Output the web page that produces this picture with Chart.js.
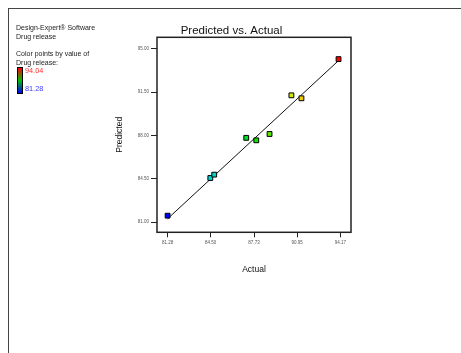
<!DOCTYPE html>
<html>
<head>
<meta charset="utf-8">
<script src="https://cdn.jsdelivr.net/npm/chart.js@4"></script>
<style>
  body { margin: 0; background: #fff; font-family: "Liberation Sans", Arial, sans-serif; }
  #wrap { position: relative; width: 461px; height: 353px; overflow: hidden; }
  #frame { position: absolute; left: 8px; top: 8px; right: -5px; bottom: -5px; border-left: 1.5px solid #444; border-top: 1.5px solid #444; }
  #info { position: absolute; left: 16px; top: 23px; font-size: 7px; line-height: 9.3px; color: #222; }
  #bar { position: absolute; left: 17px; top: 67px; width: 4px; height: 25px; border: 1px solid #000;
         background: linear-gradient(#ff0000, #00c000 50%, #0000ff); }
  .lbl { position: absolute; left: 25px; font-size: 7.3px; }
  canvas { position: absolute; left: 0; top: 0; }
</style>
</head>
<body>
<div id="wrap">
  <canvas id="chart" width="461" height="353"></canvas>
  <div id="frame"></div>
  <div id="info">
    Design-Expert® Software<br>Drug release<br><span style="display:block;height:7.6px"></span>Color points by value of<br>Drug release:
  </div>
  <div id="bar"></div>
  <div class="lbl" style="top:66px;color:#ff3030">94.04</div>
  <div class="lbl" style="top:84px;color:#3a3aff">81.28</div>
</div>
<script>
// data
const actual    = [81.28, 84.47, 84.76, 87.15, 87.90, 88.89, 90.52, 91.27, 94.04];
const predicted = [81.53, 84.57, 84.84, 87.81, 87.61, 88.12, 91.24, 91.00, 94.16];
const fitLine   = [81.28, 94.04];
const xTicks = [81.28, 84.50, 87.73, 90.95, 94.17];
const yTicks = [81.00, 84.50, 88.00, 91.50, 95.00];
const colorMin = 81.28, colorMax = 94.04;

// blue -> cyan -> green -> yellow -> red
function colorFor(v) {
  const stops = [[0, 0, 255], [0, 210, 210], [0, 225, 0], [235, 235, 0], [255, 0, 0]];
  let t = (v - colorMin) / (colorMax - colorMin);
  t = Math.max(0, Math.min(1, t)) * 4;
  const i = Math.min(3, Math.floor(t)), f = t - i;
  const c = stops[i].map((a, k) => Math.round(a + (stops[i + 1][k] - a) * f));
  return `rgb(${c[0]},${c[1]},${c[2]})`;
}

const boxPlugin = {
  id: "box",
  afterDraw(chart) {
    const { ctx, chartArea: a } = chart;
    ctx.save();
    ctx.strokeStyle = "#222";
    ctx.lineWidth = 1.5;
    ctx.strokeRect(a.left, a.top, a.right - a.left, a.bottom - a.top);
    ctx.restore();
  }
};

const tickFont = { family: "Liberation Sans", size: 4.5 };

new Chart(document.getElementById("chart"), {
  type: "scatter",
  data: {
    datasets: [
      {
        type: "line",
        data: fitLine.map(v => ({ x: v, y: v })),
        borderColor: "#111",
        borderWidth: 1,
        pointRadius: 0,
        order: 2
      },
      {
        data: actual.map((a, i) => ({ x: a, y: predicted[i] })),
        pointStyle: "rect",
        pointRadius: 3.4,
        pointBackgroundColor: actual.map(colorFor),
        pointBorderColor: "#000",
        pointBorderWidth: 1,
        order: 1
      }
    ]
  },
  options: {
    responsive: false,
    animation: false,
    layout: { padding: { left: 112, right: 110, top: 23.5, bottom: 75.7 } },
    plugins: {
      legend: { display: false },
      tooltip: { enabled: false },
      title: {
        display: true,
        text: "Predicted vs. Actual",
        color: "#111",
        font: { family: "Liberation Sans", size: 11.5, weight: "normal" },
        padding: { top: 0, bottom: 0 }
      }
    },
    scales: {
      x: {
        type: "linear",
        min: 80.49,
        max: 94.97,
        afterBuildTicks: s => { s.ticks = xTicks.map(v => ({ value: v })); },
        afterFit: s => { s.height = 45; },
        ticks: { font: tickFont, color: "#555", padding: 2.5, maxRotation: 0, callback: v => v.toFixed(2) },
        grid: { drawOnChartArea: false, tickLength: 5, color: "#222", lineWidth: 1 },
        border: { display: false },
        title: { display: true, text: "Actual", color: "#111", font: { family: "Liberation Sans", size: 8.5 }, padding: { top: 0, bottom: 2.2 } }
      },
      y: {
        type: "linear",
        min: 80.19,
        max: 95.92,
        afterBuildTicks: s => { s.ticks = yTicks.map(v => ({ value: v })); },
        afterFit: s => { s.width = 45; },
        ticks: { font: tickFont, color: "#555", padding: 2, callback: v => v.toFixed(2) },
        grid: { drawOnChartArea: false, tickLength: 6, color: "#222", lineWidth: 1 },
        border: { display: false },
        title: { display: true, text: "Predicted", color: "#111", font: { family: "Liberation Sans", size: 8.5 }, padding: { top: 2.4, bottom: 0 } }
      }
    }
  },
  plugins: [boxPlugin]
});
</script>
</body>
</html>
